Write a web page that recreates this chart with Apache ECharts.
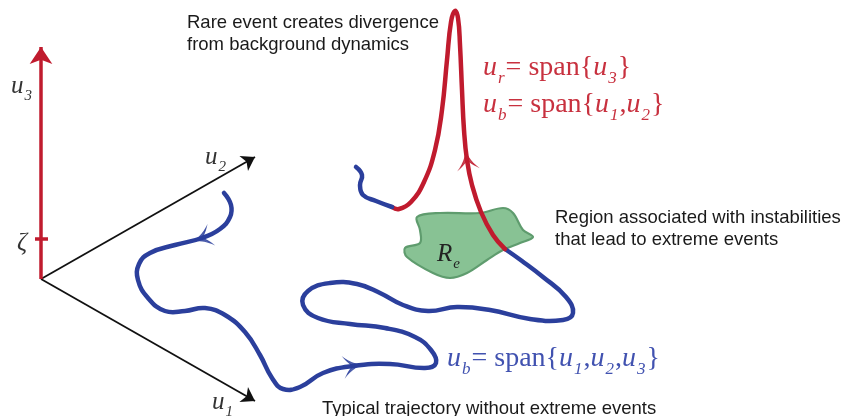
<!DOCTYPE html>
<html>
<head>
<meta charset="utf-8">
<script src="https://cdn.jsdelivr.net/npm/echarts@6/dist/echarts.min.js"></script>
<style>
  html, body { margin: 0; padding: 0; background: #fff; }
  #main { width: 846px; height: 416px; }
</style>
</head>
<body>
<div id="main"></div>
<script>
// 坐标轴 (pixel-like frame, y grows downward)
const origin = [41, 279];
const axisEnds = { u1: [255, 401], u2: [255, 157], u3: [41, 47] };
const zetaTick = [[35, 239], [48, 239]];

// 轨迹: blue part before instability, red excursion, blue tail
const blueMain = [[224,193],[231,205],[230,217],[220,229],[202,238],[175,245],[150,253],[139,264],[138,280],
  [148,298],[165,311],[185,311],[205,308],[225,315],[245,332],[260,355],[272,378],[283,389],[300,387],
  [323,373],[353,366],[390,364],[425,368],[436,363],[431,350],[415,337],[385,328],[350,324],[318,318],
  [303,305],[308,291],[330,283],[357,284],[380,293],[403,305],[428,311],[457,307],[490,310],
  [530,319],[563,320],[573,313],[566,297],[543,277],[522,261],[505,249]];
const redPath = [[505,249],[493,235],[481,212],[472,185],[467,160],[464,130],[462,90],[460,45],[458,18],
  [455,11],[451,22],[447,60],[442,110],[435,150],[424,182],[411,202],[399,209],[392,207]];
const blueTail = [[392,207],[376,201],[363,195],[360,185],[362,175],[356,167]];

// 箭头位置 (index into path)
const arrowMarks = [['blue', 4], ['blue', 20], ['red', 4]];

// R_e 区域
const regionPts = [[417,217],[440,213],[480,213],[503,208],[513,213],[523,230],[533,237],[520,243],[503,250],
  [487,260],[467,273],[450,278],[433,273],[407,257],[405,248],[420,243],[420,230]];

const BLUE = '#2b3f9c', RED = '#c01b2e';
const paths = { blue: blueMain, red: redPath };

const arrowData = arrowMarks.map(([k, i]) => {
  const p = paths[k];
  const a = p[i - 1], b = p[i + 1];
  const ang = Math.atan2(-(b[1] - a[1]), b[0] - a[0]) * 180 / Math.PI;
  const c = k === 'blue' ? BLUE : RED;
  return { value: p[i], symbolRotate: ang - 90, itemStyle: { color: c, borderColor: c, borderWidth: 1 } };
});

const chevron = 'path://M0,0 C1.5,5 3.5,9 7,13 C4,11 2,8.5 0,7 C-2,8.5 -4,11 -7,13 C-3.5,9 -1.5,5 0,0 Z';

const serif = '"Liberation Serif", "DejaVu Serif", serif';
const sans = '"Liberation Sans", Arial, sans-serif';

// smooth curve through the traced points, mapped by the axes
function curveSeries(pts, color) {
  return {
    type: 'custom', clip: false, z: 3,
    data: [[0, 0]],
    renderItem: function (params, api) {
      return {
        type: 'polyline',
        shape: { points: pts.map(p => api.coord(p)), smooth: 0.45 },
        style: { fill: null, stroke: color, lineWidth: 4.5, lineCap: 'round', lineJoin: 'round' }
      };
    }
  };
}

function mathText(x, y, text, color, size) {
  return {
    type: 'text', x: x, y: y, z: 10,
    style: {
      text: text, fill: color, fontSize: size, fontFamily: serif, verticalAlign: 'middle',
      rich: {
        u: { fontStyle: 'italic', fontSize: size, fontFamily: serif, fill: color },
        s: { fontStyle: 'italic', fontSize: Math.round(size * 0.6), fontFamily: serif, fill: color,
             padding: [Math.round(size * 0.8), 1, 0, 1] }
      }
    }
  };
}
function plainText(x, y, text) {
  return {
    type: 'text', x: x, y: y, z: 10,
    style: { text: text, fill: '#1a1a1a', fontSize: 18.5, fontFamily: sans, verticalAlign: 'middle', lineHeight: 22 }
  };
}

const chart = echarts.init(document.getElementById('main'));
const option = {
  animation: false,
  grid: { left: 0, right: 0, top: 0, bottom: 0 },
  xAxis: { type: 'value', min: 0, max: 846, show: false },
  yAxis: { type: 'value', min: 0, max: 416, inverse: true, show: false },
  series: [
    {
      type: 'custom', clip: false, z: 1,
      data: [[0, 0]],
      renderItem: function (params, api) {
        return {
          type: 'polygon',
          shape: { points: regionPts.map(p => api.coord(p)), smooth: 0.35 },
          style: { fill: '#88c294', stroke: '#5f9c6e', lineWidth: 2.2 }
        };
      }
    },
    {
      type: 'lines', coordinateSystem: 'cartesian2d', z: 2,
      symbol: ['none', 'arrow'], symbolSize: [9, 13],
      lineStyle: { color: '#111', width: 1.8, opacity: 1 },
      data: [{ coords: [origin, axisEnds.u1] }, { coords: [origin, axisEnds.u2] }]
    },
    {
      type: 'lines', coordinateSystem: 'cartesian2d', z: 2,
      symbol: ['none', 'arrow'], symbolSize: [10, 17],
      lineStyle: { color: RED, width: 3.5, opacity: 1 },
      data: [{ coords: [origin, axisEnds.u3] }, { coords: zetaTick, symbol: ['none', 'none'] }]
    },
    curveSeries(blueMain, BLUE),
    curveSeries(redPath, RED),
    curveSeries(blueTail, BLUE),
    {
      type: 'scatter', data: arrowData, symbol: chevron, symbolSize: [17, 15], z: 4
    }
  ],
  graphic: [
    plainText(187, 34, 'Rare event creates divergence\nfrom background dynamics'),
    plainText(555, 229, 'Region associated with instabilities\nthat lead to extreme events'),
    plainText(322, 409, 'Typical trajectory without extreme events'),
    mathText(483, 68, '{u|u}{s|r}= span{{u|u}{s|3}}', '#c8313f', 28),
    mathText(483, 105, '{u|u}{s|b}= span{{u|u}{s|1},{u|u}{s|2}}', '#c8313f', 28),
    mathText(447, 359, '{u|u}{s|b}= span{{u|u}{s|1},{u|u}{s|2},{u|u}{s|3}}', '#4152b0', 28),
    mathText(11, 86, '{u|u}{s|3}', '#333', 25),
    mathText(205, 157, '{u|u}{s|2}', '#333', 25),
    mathText(212, 402, '{u|u}{s|1}', '#333', 25),
    mathText(17, 243, '{u|ζ}', '#333', 25),
    mathText(437, 254, '{u|R}{s|e}', '#222', 25)
  ]
};
chart.setOption(option);
</script>
</body>
</html>
